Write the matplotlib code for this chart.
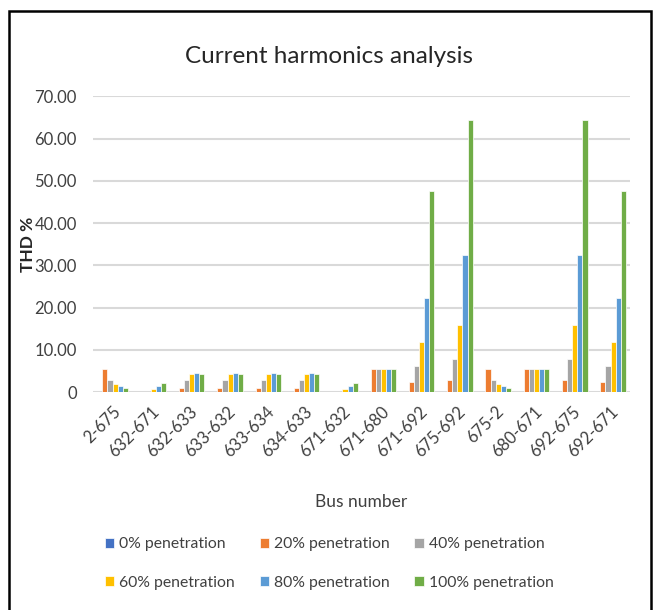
import matplotlib.pyplot as plt
import numpy as np
from matplotlib.patches import Rectangle

plt.rcParams['font.family'] = ['Lato', 'DejaVu Sans']

buses = ['2-675', '632-671', '632-633', '633-632', '633-634', '634-633', '671-632',
         '671-680', '671-692', '675-692', '675-2', '680-671', '692-675', '692-671']
series = ['0% penetration', '20% penetration', '40% penetration',
          '60% penetration', '80% penetration', '100% penetration']

pen_0 = [0, 0, 0, 0, 0, 0, 0, 0, 0, 0, 0, 0, 0, 0]
pen_20 = [5.6, 0, 1.0, 1.0, 1.0, 1.0, 0, 5.6, 2.4, 3.0, 5.6, 5.6, 3.0, 2.4]
pen_40 = [2.8, 0, 2.8, 2.8, 2.8, 2.8, 0, 5.6, 6.1, 7.8, 2.8, 5.6, 7.8, 6.1]
pen_60 = [2.0, 0.8, 4.2, 4.2, 4.2, 4.2, 0.8, 5.6, 11.9, 15.9, 2.0, 5.6, 15.9, 11.9]
pen_80 = [1.4, 1.4, 4.5, 4.5, 4.5, 4.5, 1.4, 5.6, 22.2, 32.5, 1.4, 5.6, 32.5, 22.2]
pen_100 = [1.1, 2.2, 4.2, 4.2, 4.2, 4.2, 2.2, 5.6, 47.6, 64.3, 1.1, 5.6, 64.3, 47.6]

colors = ['#4472C4', '#ED7D31', '#A5A5A5', '#FFC000', '#5B9BD5', '#70AD47']
values = [pen_0, pen_20, pen_40, pen_60, pen_80, pen_100]

fig = plt.figure(figsize=(6.58, 6.10), dpi=100)
ax = fig.add_axes([0.142, 0.357, 0.815, 0.485])

x = np.arange(len(buses))
step = 0.133
handles = []
for k, (vals, col, name) in enumerate(zip(values, colors, series)):
    b = ax.bar(x + (k - 2.5) * step, vals, width=step, color=col, label=name,
               edgecolor='white', linewidth=0.5, zorder=3)
    handles.append(b)

ax.set_xlim(-0.5, len(buses) - 0.5)
ax.set_ylim(0, 70)
ax.set_yticks(np.arange(0, 71, 10))
ax.set_yticklabels(['0'] + [f'{v:.2f}' for v in range(10, 71, 10)])
ax.yaxis.grid(True, color='#D9D9D9', linewidth=1.5, zorder=0)
ax.set_axisbelow(True)
for s in ax.spines.values():
    s.set_visible(False)
ax.tick_params(axis='both', length=0, labelsize=12, colors='#404040')
ax.tick_params(axis='y', pad=12)
ax.set_xticks(x)
ax.set_xticklabels(buses, rotation=45, ha='right', rotation_mode='anchor')
ax.tick_params(axis='x', pad=8)

ax.set_ylabel('THD %', fontsize=12.5, fontweight='bold', color='#262626')
ax.yaxis.set_label_coords(-0.108, 0.5)
ax.set_xlabel('Bus number', fontsize=12.5, color='#404040')
ax.xaxis.set_label_coords(0.5, -0.345)
fig.text(0.5, 0.908, 'Current harmonics analysis', ha='center', va='center',
         fontsize=17.5, color='#262626')

# legend rows read left to right, matplotlib fills columns first
order = [0, 3, 1, 4, 2, 5]
fig.legend([handles[i] for i in order], [series[i] for i in order],
           loc='lower center', bbox_to_anchor=(0.5, 0.01), ncol=3, frameon=False,
           fontsize=11.3, handlelength=0.6, handleheight=0.6, handletextpad=0.3,
           columnspacing=1.6, labelspacing=1.55, labelcolor='#404040')

fig.patches.append(Rectangle((9 / 658, -0.05), (651 - 9) / 658, 1.05 - 11 / 610,
                             transform=fig.transFigure, fill=False,
                             edgecolor='black', linewidth=1.8))

fig.savefig('out.png', dpi=100)
